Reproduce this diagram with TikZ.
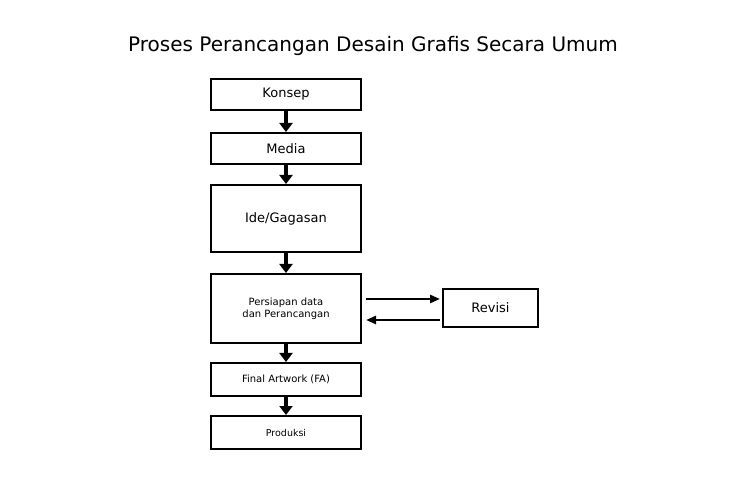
\documentclass[tikz,border=0pt]{standalone}
\usepackage{fontspec}
\setmainfont{DejaVu Sans}
\usetikzlibrary{arrows.meta}
\begin{document}
\begin{tikzpicture}[x=1pt,y=-1pt,
  box/.style={draw,line width=2pt,inner sep=0pt,align=center},
  varr/.style={line width=4pt,-{Triangle[width=13pt,length=9pt]}},
  harr/.style={line width=2.5pt,-{Triangle[width=8pt,length=10pt]}}]
\useasboundingbox (0,0) rectangle (750,478);
\node (title) at (373,46) {\fontsize{20}{24}\selectfont Proses Perancangan Desain Grafis Secara Umum};
\node[box,minimum width=150pt,minimum height=31pt] (k) at (286,94.5) {\fontsize{13}{15}\selectfont Konsep};
\node[box,minimum width=150pt,minimum height=31pt] (m) at (286,148.5) {\fontsize{13}{15}\selectfont Media};
\node[box,minimum width=150pt,minimum height=67pt] (i) at (286,218.5) {\fontsize{13}{15}\selectfont Ide/Gagasan};
\node[box,minimum width=150pt,minimum height=69pt] (p) at (286,308.5) {\fontsize{10}{15}\selectfont Persiapan data\\dan Perancangan};
\node[box,minimum width=150pt,minimum height=33pt] (f) at (286,379.5) {\fontsize{10}{12}\selectfont Final Artwork (FA)};
\node[box,minimum width=150pt,minimum height=33pt] (pr) at (286,432.5) {\fontsize{9.5}{12}\selectfont Produksi};
\node[box,minimum width=95pt,minimum height=38pt] (r) at (490.5,308) {\fontsize{13}{15}\selectfont Revisi};
\draw[varr] (k.south) -- (m.north);
\draw[varr] (m.south) -- (i.north);
\draw[varr] (i.south) -- (p.north);
\draw[varr] (p.south) -- (f.north);
\draw[varr] (f.south) -- (pr.north);
\coordinate (a1) at (366,299); \coordinate (a2) at (440,299);
\coordinate (b1) at (440,320); \coordinate (b2) at (366,320);
\draw[harr] (a1) -- (a2);
\draw[harr] (b1) -- (b2);
\end{tikzpicture}
\end{document}
